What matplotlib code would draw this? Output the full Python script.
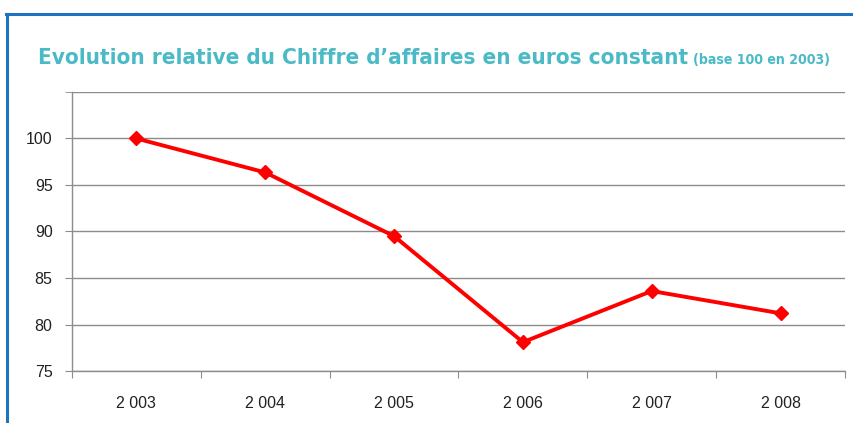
import matplotlib
matplotlib.use("Agg")
import matplotlib.pyplot as plt
from matplotlib.lines import Line2D

years = ["2 003", "2 004", "2 005", "2 006", "2 007", "2 008"]
values = [100.0, 96.35, 89.5, 78.1, 83.6, 81.2]
yticks = [75, 80, 85, 90, 95, 100]
title_main = "Evolution relative du Chiffre d\u2019affaires en euros constant"
title_sub = "(base 100 en 2003)"

W, H = 854, 423
fig = plt.figure(figsize=(W / 100, H / 100), dpi=100)
fig.patch.set_facecolor("white")

L, R, T, B = 72, 845, 92, 371
ax = fig.add_axes([L / W, 1 - B / H, (R - L) / W, (B - T) / H])

x = list(range(len(years)))
ax.plot(x, values, color="#FF0000", lw=2.8, marker="D", ms=7, mec="#FF0000", mfc="#FF0000", zorder=5, clip_on=False)
ax.set_xlim(-0.5, len(years) - 0.5)
ax.set_ylim(75, 105)
ax.set_yticks(yticks)
ax.set_yticks([105], minor=True)
ax.yaxis.grid(True, which="both", color="#8C8C8C", lw=1)
ax.set_axisbelow(True)
ax.set_xticks([i + 0.5 for i in range(-1, len(years))])
ax.set_xticklabels([])
ax.set_xticks(x, minor=True)
ax.set_xticklabels(years, minor=True)
ax.tick_params(axis="x", which="major", length=5, color="#8C8C8C", direction="out")
ax.tick_params(axis="x", which="minor", length=0, pad=18, labelsize=11.5, labelcolor="#222222")
ax.tick_params(axis="y", which="major", length=5, color="#8C8C8C", labelsize=11.5, labelcolor="#222222", pad=9)
ax.tick_params(axis="y", which="minor", length=5, color="#8C8C8C")
for lab in ax.get_xticklabels(minor=True) + ax.get_yticklabels():
    lab.set_fontfamily("Liberation Sans")
for s in ["top", "right"]:
    ax.spines[s].set_visible(False)
for s in ["left", "bottom"]:
    ax.spines[s].set_color("#8C8C8C")
    ax.spines[s].set_linewidth(1)

# frame lines
border = "#1E73BE"
fig.add_artist(Line2D([6 / W, 1.0], [1 - 14 / H, 1 - 14 / H], color=border, lw=2.2, transform=fig.transFigure))
fig.add_artist(Line2D([7 / W, 7 / W], [1 - 14 / H, 0], color=border, lw=2.2, transform=fig.transFigure))

teal = "#4ABAC6"
fam = ["DejaVu Sans"]
t1 = fig.text(38 / W, 1 - 58 / H, title_main, color=teal, fontsize=16, fontweight="semibold",
              fontfamily=fam, fontstretch="condensed", va="center", ha="left")
t2 = fig.text(0, 1 - 60 / H, title_sub, color=teal, fontsize=10.5, fontweight="semibold",
              fontfamily=fam, fontstretch="condensed", va="center", ha="left")
fig.canvas.draw()
r = fig.canvas.get_renderer()
# fit main title to the reference width (38 -> 690 px)
bb = t1.get_window_extent(r)
t1.set_fontsize(16 * 652 / bb.width)
bb = t1.get_window_extent(r)
bb2 = t2.get_window_extent(r)
t2.set_fontsize(10.5 * 138 / bb2.width)
t2.set_x((bb.x1 + 5) / W)

fig.savefig("out.png", dpi=100)
